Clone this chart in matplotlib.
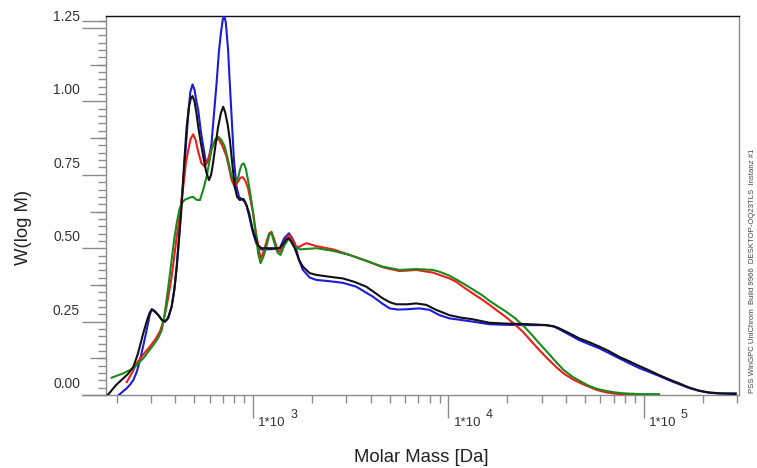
import matplotlib
matplotlib.use("Agg")
import matplotlib.pyplot as plt
import numpy as np

plt.rcParams['font.family'] = ['Liberation Sans', 'DejaVu Sans']

# ---- data (log10 molar mass, W(log M)) ----
black_logm = [2.251, 2.300, 2.336, 2.360, 2.387, 2.410, 2.438, 2.455, 2.470, 2.481, 2.495, 2.515,
              2.535, 2.549, 2.565, 2.583, 2.597, 2.609, 2.622, 2.634, 2.647, 2.660, 2.672, 2.682,
              2.690, 2.700, 2.710, 2.719, 2.732, 2.745, 2.760, 2.774, 2.785, 2.795, 2.804, 2.820,
              2.835, 2.847, 2.858, 2.870, 2.881, 2.893, 2.906, 2.918, 2.932, 2.944, 2.952, 2.965,
              2.980, 2.995, 3.009, 3.025, 3.043, 3.085, 3.136, 3.155, 3.170, 3.184, 3.198, 3.213,
              3.235, 3.255, 3.290, 3.324, 3.400, 3.460, 3.520, 3.579, 3.620, 3.664, 3.700, 3.733,
              3.790, 3.835, 3.886, 3.937, 4.005, 4.060, 4.124, 4.210, 4.300, 4.380, 4.450, 4.499,
              4.540, 4.567, 4.620, 4.669, 4.720, 4.772, 4.820, 4.874, 4.925, 4.976, 5.030, 5.078,
              5.130, 5.180, 5.230, 5.283, 5.330, 5.385, 5.470]
black_w = [-0.004, 0.035, 0.057, 0.072, 0.096, 0.140, 0.211, 0.250, 0.280, 0.290, 0.285, 0.272,
           0.254, 0.250, 0.262, 0.301, 0.360, 0.437, 0.540, 0.641, 0.790, 0.914, 0.985, 1.012,
           1.018, 1.000, 0.960, 0.914, 0.860, 0.812, 0.760, 0.732, 0.750, 0.790, 0.834, 0.910,
           0.960, 0.982, 0.960, 0.920, 0.869, 0.790, 0.709, 0.675, 0.664, 0.668, 0.667, 0.648,
           0.619, 0.570, 0.539, 0.510, 0.500, 0.500, 0.500, 0.515, 0.530, 0.534, 0.520, 0.500,
           0.460, 0.437, 0.415, 0.409, 0.402, 0.397, 0.385, 0.369, 0.350, 0.329, 0.316, 0.309,
           0.309, 0.312, 0.307, 0.290, 0.272, 0.264, 0.258, 0.246, 0.243, 0.242, 0.240, 0.238,
           0.234, 0.227, 0.210, 0.193, 0.180, 0.165, 0.150, 0.130, 0.115, 0.099, 0.083, 0.068,
           0.053, 0.040, 0.026, 0.015, 0.009, 0.006, 0.003]

blue_logm = [2.302, 2.330, 2.353, 2.370, 2.387, 2.405, 2.421, 2.440, 2.455, 2.470, 2.481, 2.495,
             2.515, 2.535, 2.549, 2.565, 2.583, 2.597, 2.609, 2.622, 2.634, 2.651, 2.665, 2.678,
             2.690, 2.700, 2.710, 2.719, 2.732, 2.745, 2.755, 2.762, 2.772, 2.787, 2.800, 2.813,
             2.825, 2.835, 2.845, 2.852, 2.860, 2.872, 2.880, 2.890, 2.902, 2.915, 2.928, 2.941,
             2.955, 2.966, 2.983, 3.000, 3.017, 3.034, 3.050, 3.068, 3.100, 3.136, 3.160, 3.184,
             3.200, 3.213, 3.235, 3.255, 3.290, 3.324, 3.400, 3.460, 3.528, 3.570, 3.613, 3.660,
             3.699, 3.740, 3.784, 3.852, 3.903, 3.954, 4.005, 4.060, 4.124, 4.210, 4.300, 4.380,
             4.450, 4.499, 4.540, 4.567, 4.620, 4.669, 4.720, 4.772, 4.820, 4.874, 4.925, 4.976,
             5.030, 5.078, 5.130, 5.180, 5.230, 5.283, 5.330, 5.385, 5.470]
blue_w = [-0.006, 0.010, 0.023, 0.035, 0.051, 0.080, 0.119, 0.175, 0.221, 0.270, 0.293, 0.287,
          0.272, 0.254, 0.250, 0.262, 0.301, 0.360, 0.437, 0.550, 0.664, 0.800, 0.930, 1.030,
          1.058, 1.040, 1.000, 0.971, 0.900, 0.846, 0.805, 0.790, 0.800, 0.857, 0.960, 1.062,
          1.170, 1.232, 1.280, 1.291, 1.270, 1.175, 1.070, 0.948, 0.800, 0.709, 0.675, 0.667,
          0.660, 0.647, 0.600, 0.551, 0.515, 0.500, 0.494, 0.496, 0.497, 0.500, 0.535, 0.551,
          0.535, 0.517, 0.460, 0.426, 0.400, 0.392, 0.387, 0.382, 0.369, 0.352, 0.335, 0.312,
          0.295, 0.291, 0.292, 0.295, 0.290, 0.272, 0.261, 0.256, 0.250, 0.241, 0.239, 0.238,
          0.238, 0.238, 0.233, 0.224, 0.205, 0.187, 0.173, 0.159, 0.143, 0.125, 0.108, 0.092,
          0.078, 0.065, 0.050, 0.037, 0.024, 0.014, 0.008, 0.005, 0.006]

red_logm = [2.353, 2.380, 2.404, 2.440, 2.472, 2.500, 2.523, 2.540, 2.557, 2.570, 2.583, 2.596,
            2.609, 2.622, 2.634, 2.646, 2.656, 2.668, 2.680, 2.693, 2.705, 2.719, 2.735, 2.753,
            2.765, 2.779, 2.800, 2.821, 2.842, 2.864, 2.878, 2.890, 2.906, 2.923, 2.935, 2.947,
            2.960, 2.974, 2.988, 3.000, 3.013, 3.026, 3.038, 3.050, 3.068, 3.082, 3.094, 3.108,
            3.125, 3.136, 3.150, 3.170, 3.188, 3.205, 3.220, 3.239, 3.255, 3.273, 3.324, 3.409,
            3.494, 3.579, 3.664, 3.750, 3.835, 3.920, 4.005, 4.039, 4.080, 4.124, 4.170, 4.210,
            4.250, 4.295, 4.340, 4.380, 4.420, 4.465, 4.510, 4.550, 4.590, 4.635, 4.680, 4.720,
            4.760, 4.806, 4.850, 4.891, 4.976]
red_w = [0.044, 0.075, 0.108, 0.140, 0.165, 0.190, 0.216, 0.250, 0.301, 0.350, 0.403, 0.470,
         0.539, 0.600, 0.664, 0.730, 0.790, 0.834, 0.872, 0.888, 0.870, 0.829, 0.790, 0.778,
         0.795, 0.823, 0.860, 0.874, 0.850, 0.812, 0.770, 0.732, 0.709, 0.727, 0.740, 0.742,
         0.730, 0.705, 0.660, 0.620, 0.560, 0.511, 0.466, 0.480, 0.521, 0.550, 0.556, 0.530,
         0.495, 0.488, 0.500, 0.535, 0.545, 0.525, 0.505, 0.505, 0.512, 0.517, 0.507, 0.496,
         0.477, 0.457, 0.435, 0.422, 0.426, 0.417, 0.397, 0.386, 0.366, 0.346, 0.326, 0.307,
         0.287, 0.265, 0.240, 0.216, 0.186, 0.153, 0.122, 0.096, 0.073, 0.054, 0.039, 0.028,
         0.017, 0.009, 0.005, 0.002, 0.000]

green_logm = [2.276, 2.336, 2.387, 2.438, 2.489, 2.515, 2.532, 2.545, 2.557, 2.570, 2.583, 2.596,
              2.609, 2.622, 2.634, 2.650, 2.668, 2.683, 2.693, 2.710, 2.728, 2.745, 2.762, 2.775,
              2.787, 2.805, 2.821, 2.838, 2.855, 2.872, 2.890, 2.903, 2.915, 2.925, 2.932, 2.942,
              2.952, 2.963, 2.974, 2.987, 3.000, 3.013, 3.026, 3.038, 3.052, 3.068, 3.082, 3.094,
              3.108, 3.125, 3.140, 3.160, 3.184, 3.205, 3.239, 3.324, 3.409, 3.494, 3.580, 3.664,
              3.750, 3.835, 3.920, 3.954, 4.000, 4.039, 4.080, 4.124, 4.170, 4.210, 4.250, 4.295,
              4.340, 4.380, 4.420, 4.465, 4.510, 4.550, 4.590, 4.635, 4.680, 4.720, 4.760, 4.806,
              4.850, 4.891, 4.976, 5.078]
green_w = [0.059, 0.074, 0.091, 0.125, 0.170, 0.195, 0.221, 0.265, 0.324, 0.390, 0.460, 0.530,
           0.585, 0.630, 0.653, 0.665, 0.670, 0.674, 0.675, 0.665, 0.664, 0.700, 0.744, 0.790,
           0.834, 0.870, 0.880, 0.868, 0.846, 0.800, 0.744, 0.727, 0.727, 0.745, 0.766, 0.785,
           0.789, 0.770, 0.732, 0.680, 0.619, 0.550, 0.483, 0.449, 0.470, 0.505, 0.545, 0.552,
           0.520, 0.485, 0.477, 0.510, 0.534, 0.510, 0.496, 0.500, 0.491, 0.477, 0.457, 0.437,
           0.426, 0.429, 0.426, 0.420, 0.408, 0.394, 0.378, 0.360, 0.341, 0.321, 0.303, 0.284,
           0.262, 0.238, 0.210, 0.176, 0.143, 0.113, 0.085, 0.062, 0.045, 0.031, 0.021, 0.014,
           0.009, 0.006, 0.003, 0.003]

ytick_vals = [0.00, 0.25, 0.50, 0.75, 1.00, 1.25]
ytick_labels = ["0.00", "0.25", "0.50", "0.75", "1.00", "1.25"]
xmajor_vals = [1e3, 1e4, 1e5]
xmajor_exps = ["3", "4", "5"]

# ---- figure ----
W, H = 757, 468
fig = plt.figure(figsize=(W / 100, H / 100), dpi=100)
L, R, T, B = 106, 739, 16, 395
ax = fig.add_axes([L / W, 1 - B / H, (R - L) / W, (B - T) / H])
axw = R - L

gray = '#8c8c8c'
lw = 1.5
ax.plot(10 ** np.array(blue_logm), blue_w, color='#1c1cdc', lw=lw, zorder=3,
        solid_joinstyle='round')
ax.plot(10 ** np.array(red_logm), red_w, color='#f01c1c', lw=lw, zorder=3,
        solid_joinstyle='round')
ax.plot(10 ** np.array(green_logm), green_w, color='#1a8a1a', lw=lw, zorder=3,
        solid_joinstyle='round')
ax.plot(10 ** np.array(black_logm), black_w, color='#111111', lw=lw, zorder=4,
        solid_joinstyle='round')

ax.set_xscale('log')
ax.set_xlim(176.6, 3.07e5)
ax.set_ylim(0, 1.291)

for s in ['left', 'right', 'bottom']:
    ax.spines[s].set_color(gray)
    ax.spines[s].set_linewidth(1.0)
ax.spines['top'].set_color('#111111')
ax.spines['top'].set_linewidth(1.0)

pt = 0.72  # px -> pt at 100 dpi

# x ticks
ax.set_xticks(xmajor_vals)
ax.set_xticklabels([])
minor_x = [m * 10 ** k for k in (2, 3, 4, 5) for m in range(2, 10)]
minor_x = [v for v in minor_x if 176.6 < v < 3.07e5]
ax.set_xticks(minor_x, minor=True)
ax.tick_params(axis='x', which='major', direction='out', length=23 * pt, width=1, color=gray)
ax.tick_params(axis='x', which='minor', direction='out', length=8 * pt, width=1, color=gray,
               labelbottom=False)
for v, e in zip(xmajor_vals, xmajor_exps):
    ax.annotate("1*10", xy=(v, 0), xycoords=ax.get_xaxis_transform(),
                xytext=(5 * pt, -28.5 * pt), textcoords='offset points',
                ha='left', va='center', fontsize=9.5, color='#333333')
    ax.annotate(e, xy=(v, 0), xycoords=ax.get_xaxis_transform(),
                xytext=(37 * pt, -20.5 * pt), textcoords='offset points',
                ha='left', va='center', fontsize=9, color='#333333')

# y ticks
ax.set_yticks(ytick_vals)
ax.set_yticklabels([])
ax.set_yticks(np.round(np.arange(0, 1.2751, 0.025), 3), minor=True)
ax.tick_params(axis='y', which='major', direction='out', length=24 * pt, width=1, color=gray)
ax.tick_params(axis='y', which='minor', direction='out', length=8 * pt, width=1, color=gray)
medium_y = [0.125, 0.375, 0.625, 0.875, 1.125]
ax.hlines(medium_y, -16 / axw, 0, transform=ax.get_yaxis_transform(), clip_on=False,
          color=gray, lw=1)
ax.hlines([1.275], -24 / axw, 0, transform=ax.get_yaxis_transform(), clip_on=False,
          color=gray, lw=1)
for v, lab in zip(ytick_vals, ytick_labels):
    ax.annotate(lab, xy=(0, v), xycoords=ax.get_yaxis_transform(),
                xytext=(-26 * pt, 11 * pt), textcoords='offset points',
                ha='right', va='center', fontsize=10, color='#333333')

# extension of x axis line to the left
ax.plot([-24 / axw, 0], [0, 0], transform=ax.transAxes, color=gray, lw=1, clip_on=False)

# axis titles
fig.text(421 / W, 1 - 457 / H, "Molar Mass [Da]", ha='center', va='center', fontsize=13.3,
         color='#222222')
fig.text(23.5 / W, 1 - 227 / H, "W(log M)", ha='center', va='center', rotation=90,
         fontsize=13.3, color='#222222')
fig.text(752.5 / W, 1 - 393 / H, "PSS WinGPC UniChrom  Build 9966  DESKTOP-OQ23TLS  Instanz #1",
         ha='center', va='bottom', rotation=90, fontsize=5.6, color='#444444')

fig.savefig("out.png", dpi=100)
